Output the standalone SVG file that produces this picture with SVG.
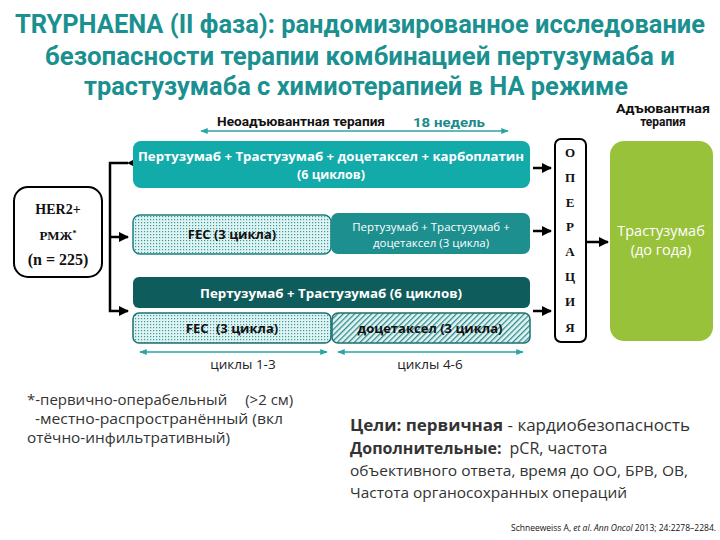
<svg xmlns="http://www.w3.org/2000/svg" width="720" height="540" viewBox="0 0 720 540">
<style>
.title{font-family:Roboto,"Open Sans","Liberation Sans",sans-serif;font-weight:bold;font-size:25px;fill:#1a9090;text-anchor:middle}
.hdr{font-family:Roboto,"Open Sans","Liberation Sans",sans-serif;font-weight:bold;font-size:12.5px;fill:#111}
.wt{font-family:"Open Sans","Liberation Sans",sans-serif;font-weight:bold;font-size:12.5px;fill:#fff;text-anchor:middle}
.dk{font-family:"Open Sans","Liberation Sans",sans-serif;font-weight:bold;font-size:13px;fill:#111;text-anchor:middle}
.sf{font-family:"Liberation Serif",serif;font-weight:bold;font-size:13px;fill:#111;text-anchor:middle}
.body{font-family:"Open Sans","Liberation Sans",sans-serif;font-size:15px;fill:#333}
.bb{font-weight:bold}
.cyc{font-family:"Open Sans","Liberation Sans",sans-serif;font-size:13.5px;fill:#222;text-anchor:middle}
.conn{stroke:#000;stroke-width:2.5;fill:none}
.tl{stroke:#2aa5a5;stroke-width:1.5;fill:none}
</style>
<defs>
<marker id="ah" viewBox="0 0 10 10" refX="9" refY="5" markerWidth="4" markerHeight="4" orient="auto"><path d="M0,0 L10,5 L0,10 z" fill="#000"/></marker>
<marker id="ta" viewBox="0 0 10 10" refX="9" refY="5" markerWidth="5" markerHeight="5" orient="auto-start-reverse"><path d="M0,1 L10,5 L0,9 z" fill="#2aa5a5"/></marker>
<pattern id="dots" width="3" height="3" patternUnits="userSpaceOnUse"><rect width="3" height="3" fill="#dff3f3"/><rect width="1.2" height="1.2" fill="#3a9a9a"/></pattern>
<pattern id="hatch" width="4" height="4" patternUnits="userSpaceOnUse" patternTransform="rotate(45)"><rect width="4" height="4" fill="#e3f4f4"/><rect width="1.3" height="4" fill="#2f8c8c"/></pattern>
</defs>

<g id="title">
<text class="title" x="360" y="33" textLength="690" lengthAdjust="spacingAndGlyphs">TRYPHAENA (II фаза): рандомизированное исследование</text>
<text class="title" x="360" y="65" textLength="630" lengthAdjust="spacingAndGlyphs">безопасности терапии комбинацией пертузумаба и</text>
<text class="title" x="356" y="95" textLength="544" lengthAdjust="spacingAndGlyphs">трастузумаба с химиотерапией в НА режиме</text>
</g>

<g id="header">
<text class="hdr" x="217" y="126" textLength="168" lengthAdjust="spacingAndGlyphs">Неоадъювантная терапия</text>
<text class="hdr" x="413" y="127" style="fill:#1a8a8a" textLength="72" lengthAdjust="spacingAndGlyphs">18 недель</text>
<line class="tl" x1="201" y1="131" x2="508" y2="131" marker-start="url(#ta)" marker-end="url(#ta)"/>
<text class="hdr" x="616" y="113" style="font-size:12px" textLength="94" lengthAdjust="spacingAndGlyphs">Адъювантная</text>
<text class="hdr" x="663" y="126" style="font-size:12px" text-anchor="middle">терапия</text>
</g>

<g id="connectors">
<polyline class="conn" points="128,163 110,163 110,311 128,311" marker-start="url(#ah)" marker-end="url(#ah)"/>
<line class="conn" x1="110" y1="237" x2="128" y2="237" marker-end="url(#ah)"/>
<line class="conn" x1="533" y1="168" x2="551" y2="168" marker-end="url(#ah)"/>
<line class="conn" x1="533" y1="231" x2="551" y2="231" marker-end="url(#ah)"/>
<line class="conn" x1="533" y1="311" x2="551" y2="311" marker-end="url(#ah)"/>
<line class="conn" x1="587" y1="242" x2="608" y2="242" marker-end="url(#ah)"/>
</g>

<g id="her2">
<rect x="14" y="187" width="88" height="90" rx="14" fill="#fff" stroke="#000" stroke-width="2"/>
<text class="sf" x="58" y="214" style="font-size:14px">HER2+</text>
<text class="sf" x="58" y="240">РМЖ<tspan font-size="8" dy="-4">*</tspan></text>
<text class="sf" x="58" y="265" style="font-size:16px">(n = 225)</text>
</g>

<g id="arm1">
<rect x="133" y="141" width="397" height="47" rx="8" fill="#13aaaa"/>
<text class="wt" x="331" y="161" textLength="386" lengthAdjust="spacingAndGlyphs">Пертузумаб + Трастузумаб + доцетаксел + карбоплатин</text>
<text class="wt" x="331" y="179">(6 циклов)</text>
</g>

<g id="arm2-fec">
<rect x="133" y="215" width="198" height="39" rx="7" fill="url(#dots)" stroke="#1e8080" stroke-width="1.5"/>
<text class="dk" x="232" y="239">FEC (3 цикла)</text>
</g>
<g id="arm2-pt">
<rect x="331" y="213" width="199" height="41" rx="7" fill="#1d8f8f"/>
<text class="wt" x="431" y="231" style="font-size:11.5px;font-weight:normal">Пертузумаб + Трастузумаб +</text>
<text class="wt" x="431" y="247" style="font-size:11.5px;font-weight:normal">доцетаксел (3 цикла)</text>
</g>

<g id="arm3-pt">
<rect x="133" y="277" width="397" height="31" rx="6" fill="#0f5c5c"/>
<text class="wt" x="331" y="298" style="font-size:13px" textLength="262" lengthAdjust="spacingAndGlyphs">Пертузумаб + Трастузумаб (6 циклов)</text>
</g>
<g id="arm3-fec">
<rect x="133" y="313" width="198" height="30" rx="6" fill="url(#dots)" stroke="#1e7070" stroke-width="1.5"/>
<text class="dk" x="232" y="333">FEC <tspan dx="4">(3 цикла)</tspan></text>
</g>
<g id="arm3-doc">
<rect x="332" y="313" width="198" height="30" rx="6" fill="url(#hatch)" stroke="#1e7070" stroke-width="1.5"/>
<text class="dk" x="430" y="333" textLength="145" lengthAdjust="spacingAndGlyphs">доцетаксел (3 цикла)</text>
</g>

<g id="operation">
<rect x="555" y="139" width="31" height="203" rx="6" fill="#fff" stroke="#000" stroke-width="2"/>
<text class="sf" x="570" y="157">О</text>
<text class="sf" x="570" y="182">П</text>
<text class="sf" x="570" y="207">Е</text>
<text class="sf" x="570" y="231">Р</text>
<text class="sf" x="570" y="256">А</text>
<text class="sf" x="570" y="281">Ц</text>
<text class="sf" x="570" y="306">И</text>
<text class="sf" x="570" y="332">Я</text>
</g>

<g id="adjuvant">
<rect x="610" y="141" width="103" height="200" rx="14" fill="#99c23b"/>
<text class="wt" x="661" y="236" style="font-weight:normal;font-size:14.5px">Трастузумаб</text>
<text class="wt" x="661" y="255" style="font-weight:normal;font-size:14.5px">(до года)</text>
</g>

<g id="cycles">
<line class="tl" x1="140" y1="352" x2="327" y2="352" marker-start="url(#ta)" marker-end="url(#ta)"/>
<line class="tl" x1="338" y1="352" x2="523" y2="352" marker-start="url(#ta)" marker-end="url(#ta)"/>
<text class="cyc" x="243" y="369">циклы 1-3</text>
<text class="cyc" x="430" y="369">циклы 4-6</text>
</g>

<g id="footnote">
<text class="body" x="27" y="405">*-первично-операбельный<tspan dx="18">(&gt;2 см)</tspan></text>
<text class="body" x="35" y="424" textLength="248" lengthAdjust="spacingAndGlyphs">-местно-распространённый (вкл</text>
<text class="body" x="27" y="443" textLength="203" lengthAdjust="spacingAndGlyphs">отёчно-инфильтративный)</text>
</g>

<g id="goals">
<text class="body" x="350" y="431" style="font-size:16px" textLength="340" lengthAdjust="spacingAndGlyphs"><tspan class="bb">Цели: первичная</tspan> - кардиобезопасность</text>
<text class="body" x="350" y="454" style="font-size:16px"><tspan class="bb">Дополнительные:</tspan><tspan dx="8">pCR, частота</tspan></text>
<text class="body" x="350" y="476" style="font-size:15px" textLength="338" lengthAdjust="spacingAndGlyphs">объективного ответа, время до ОО, БРВ, ОВ,</text>
<text class="body" x="350" y="498" style="font-size:15px" textLength="277" lengthAdjust="spacingAndGlyphs">Частота органосохранных операций</text>
</g>

<text x="716" y="531" text-anchor="end" style="font-family:'Open Sans','Liberation Sans',sans-serif;font-size:8.5px;fill:#111">Schneeweiss A, <tspan font-style="italic">et al</tspan>. <tspan font-style="italic">Ann Oncol</tspan> 2013; 24:2278–2284.</text>
</svg>
